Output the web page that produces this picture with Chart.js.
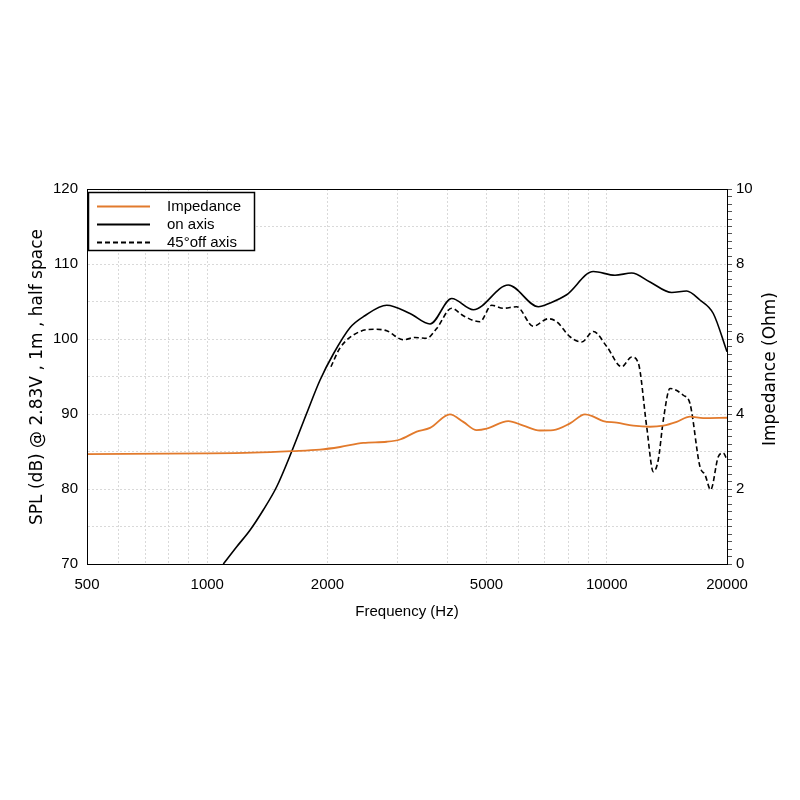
<!DOCTYPE html>
<html>
<head>
<meta charset="utf-8">
<script src="https://cdn.jsdelivr.net/npm/chart.js@4/dist/chart.umd.min.js"></script>
<style>html,body{margin:0;background:#fff}</style>
</head>
<body>
<canvas id="chart" width="800" height="800"></canvas>
<script>
// valori
var freqTicks = [500, 1000, 2000, 5000, 10000, 20000];
var freqGrid = [500, 600, 700, 800, 900, 1000, 2000, 3000, 4000, 5000, 6000, 7000, 8000, 9000, 10000, 20000];
var splTicks = [70, 80, 90, 100, 110, 120];
var ohmTicks = [0, 2, 4, 6, 8, 10];

var onAxisFreq = [1097, 1185, 1279, 1381, 1492, 1627, 1774, 1915, 2068, 2276, 2480, 2813, 3217, 3611, 4091, 4634, 5670, 6742, 7211, 7938, 9255, 10487, 11544, 12833, 14539, 15850, 17110, 18480, 20000];
var onAxisSpl = [70.0, 72.3, 74.5, 77.2, 80.3, 85.0, 90.1, 94.5, 98.0, 101.5, 103.1, 104.5, 103.4, 102.0, 105.4, 103.9, 107.2, 104.3, 104.8, 105.9, 109.0, 108.5, 108.8, 107.6, 106.2, 106.4, 105.2, 103.4, 98.3];

var offAxisFreq = [2040, 2149, 2412, 2630, 2813, 3096, 3311, 3543, 3752, 4091, 4374, 4816, 5150, 5510, 5950, 6548, 7139, 7494, 8091, 8655, 9255, 10000, 10900, 11544, 11995, 12589, 13080, 13460, 13856, 14400, 15546, 16156, 17110, 17620, 18206, 19020, 19577, 20000];
var offAxisSpl = [96.3, 98.8, 101.0, 101.3, 101.1, 99.9, 100.2, 100.1, 101.4, 104.1, 103.1, 102.3, 104.5, 104.1, 104.3, 101.7, 102.7, 102.3, 100.3, 99.6, 101.0, 99.0, 96.3, 97.6, 96.8, 88.3, 82.3, 83.9, 89.2, 93.4, 92.5, 91.4, 83.0, 81.9, 79.9, 84.3, 84.8, 83.9];

var impFreq = [500, 1000, 1300, 1627, 1915, 2150, 2458, 2813, 3037, 3344, 3611, 4051, 4374, 4726, 5006, 5670, 6184, 6806, 7349, 8091, 8821, 9168, 9803, 10590, 11655, 12833, 13856, 14963, 16156, 17440, 20000];
var impOhm = [2.93, 2.95, 2.97, 3.01, 3.05, 3.12, 3.23, 3.26, 3.32, 3.53, 3.63, 3.99, 3.79, 3.57, 3.61, 3.81, 3.69, 3.56, 3.57, 3.75, 3.99, 3.95, 3.81, 3.77, 3.69, 3.66, 3.69, 3.79, 3.93, 3.89, 3.90];

function pts(xs, ys) {
  return xs.map(function (x, i) { return {x: x, y: ys[i]}; });
}

var FONT = 'Liberation Sans';
var TITLE_FONT = '17px "DejaVu Sans"';
Chart.defaults.font.family = FONT;
Chart.defaults.font.size = 15;
Chart.defaults.color = '#000';

// cornice + legenda + titoli degli assi y
var extras = {
  id: 'extras',
  afterDraw: function (chart) {
    var ctx = chart.ctx, a = chart.chartArea;
    ctx.save();
    ctx.strokeStyle = '#000';
    ctx.lineWidth = 1;
    ctx.strokeRect(a.left + 0.5, a.top + 0.5, a.right - a.left, a.bottom - a.top);

    // legenda
    var bx = a.left + 1.5, by = a.top + 3.5;
    ctx.fillStyle = '#fff';
    ctx.fillRect(bx, by, 166, 58);
    ctx.lineWidth = 1.5;
    ctx.strokeRect(bx, by, 166, 58);
    var rows = [14, 32, 50];
    chart.data.datasets.forEach(function (ds, i) {
      var y = by + rows[i];
      ctx.strokeStyle = ds.borderColor;
      ctx.lineWidth = 1.8;
      ctx.setLineDash(ds.borderDash || []);
      ctx.beginPath();
      ctx.moveTo(a.left + 10, y);
      ctx.lineTo(a.left + 63, y);
      ctx.stroke();
      ctx.setLineDash([]);
      ctx.fillStyle = '#000';
      ctx.font = '15px "' + FONT + '"';
      ctx.textBaseline = 'middle';
      ctx.textAlign = 'left';
      ctx.fillText(ds.label, a.left + 80, y);
    });

    // titoli verticali, letti dal basso verso l'alto
    ctx.textAlign = 'center';
    ctx.textBaseline = 'middle';
    ctx.font = TITLE_FONT;
    ctx.save();
    ctx.translate(38, 377);
    ctx.rotate(-Math.PI / 2);
    ctx.fillText('SPL (dB) @ 2.83V , 1m , half space', 0, 0);
    ctx.restore();
    ctx.translate(771, 369);
    ctx.rotate(-Math.PI / 2);
    ctx.fillText('Impedance (Ohm)', 0, 0);
    ctx.restore();
  }
};

var ctx = document.getElementById('chart').getContext('2d');
var chart = new Chart(ctx, {
  type: 'line',
  data: {
    datasets: [{
      label: 'Impedance',
      data: pts(impFreq, impOhm),
      yAxisID: 'y2',
      borderColor: '#e27a2c',
      borderWidth: 1.8,
      pointRadius: 0,
      cubicInterpolationMode: 'monotone'
    }, {
      label: 'on axis',
      data: pts(onAxisFreq, onAxisSpl),
      yAxisID: 'y',
      borderColor: '#000',
      borderWidth: 1.6,
      pointRadius: 0,
      cubicInterpolationMode: 'monotone'
    }, {
      label: '45°off axis',
      data: pts(offAxisFreq, offAxisSpl),
      yAxisID: 'y',
      borderColor: '#000',
      borderDash: [5, 3],
      borderWidth: 1.6,
      pointRadius: 0,
      cubicInterpolationMode: 'monotone'
    }]
  },
  options: {
    responsive: false,
    animation: false,
    layout: { padding: { left: 22, right: 20, top: 189, bottom: 176 } },
    plugins: { legend: { display: false }, tooltip: { enabled: false } },
    scales: {
      x: {
        type: 'logarithmic',
        min: 500,
        max: 20000,
        afterBuildTicks: function (s) { s.ticks = freqGrid.map(function (v) { return {value: v}; }); },
        afterFit: function (s) { s.height = 60; },
        ticks: {
          autoSkip: false,
          maxRotation: 0,
          padding: 12,
          callback: function (v) { return freqTicks.indexOf(v) >= 0 ? String(v) : ''; }
        },
        grid: { color: '#d9d9d9', drawTicks: false },
        border: { color: '#000', width: 1, dash: [2, 2] },
        title: { display: true, text: 'Frequency (Hz)', padding: { top: 0, bottom: 3 } }
      },
      y: {
        position: 'left',
        min: 70,
        max: 120,
        afterFit: function (s) { s.width = 65; },
        ticks: {
          stepSize: 5,
          autoSkip: false,
          padding: 9,
          callback: function (v) { return splTicks.indexOf(v) >= 0 ? String(v) : ''; }
        },
        grid: { color: '#d9d9d9', drawTicks: false },
        border: { color: '#000', width: 1, dash: [2, 2] }
      },
      y2: {
        position: 'right',
        min: 0,
        max: 10,
        afterBuildTicks: function (s) {
          var t = [];
          for (var i = 0; i <= 50; i++) t.push({value: i / 5});
          s.ticks = t;
        },
        afterFit: function (s) { s.width = 53; },
        ticks: {
          autoSkip: false,
          padding: 4,
          callback: function (v) {
            var r = Math.round(v * 100) / 100;
            return ohmTicks.indexOf(r) >= 0 ? String(r) : '';
          }
        },
        grid: { drawOnChartArea: false, color: '#555', tickLength: 5 },
        border: { color: '#000', width: 1 }
      }
    }
  },
  plugins: [extras]
});
</script>
</body>
</html>
